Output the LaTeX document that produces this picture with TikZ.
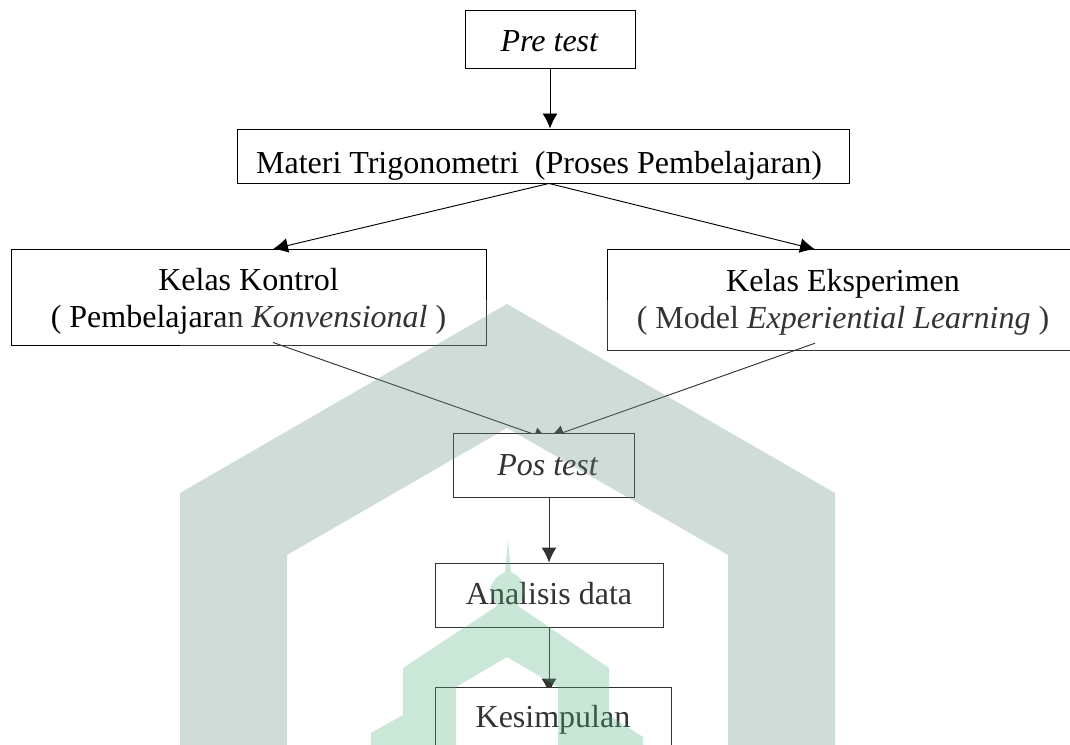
\documentclass[tikz,border=0pt]{standalone}
\usepackage{fontspec}
\setmainfont{Liberation Serif}
\usetikzlibrary{arrows.meta,calc}
\definecolor{band}{RGB}{98,141,125}
\definecolor{mosque}{RGB}{82,175,125}
\pgfdeclarelayer{lower}
\pgfdeclarelayer{links}
\pgfdeclarelayer{top}
\pgfsetlayers{lower,links,main,top}
\tikzset{
  box/.style={draw=black,fill=white,line width=0.7pt,inner sep=0pt,align=center,font=\fontsize{24}{27.75}\selectfont},
  drop/.style={text height=#1,text depth=0pt},
  link/.style={draw=black,line width=0.7pt,-{Latex[length=11.25pt,width=11.25pt]}},
}
\begin{document}
\begin{tikzpicture}[x=0.75pt,y=-0.75pt]
\useasboundingbox (0,0) rectangle (1070,745);
\begin{pgfonlayer}{lower}
\node[box,drop=19.5pt,minimum width=127.5pt,minimum height=43.5pt] (pre) at (550,39) {\itshape Pre test\hspace*{1pt}};
\node[box,drop=27pt,minimum width=459pt,minimum height=40.5pt] (mat) at (543,156) {Materi Trigonometri\ \ (Proses Pembelajaran)\hspace*{6pt}};
\node[box,minimum width=356.25pt,minimum height=72pt] (kon) at (248.5,297.5) {\rule{0pt}{22.5pt}Kelas Kontrol\\( Pembelajaran \textit{Konvensional} )};
\node[box,minimum width=348pt,minimum height=75.75pt] (eks) at (839,300.25) {\rule{0pt}{19.5pt}\hspace*{6pt}Kelas Eksperimen\\\hspace*{6pt}( Model \textit{Experiential Learning} )};
\node[box,drop=13.5pt,minimum width=171pt,minimum height=48pt] (ana) at (549,595) {Analisis data};
\end{pgfonlayer}
\node[box,drop=15pt,minimum width=135.75pt,minimum height=48pt] (pos) at (543.5,465) {\itshape\hspace*{6pt}Pos test};
\node[box,drop=12pt,minimum width=177pt,minimum height=48pt] (kes) at (553,719) {Kesimpulan};
\begin{pgfonlayer}{links}
\draw[link] (pre.south) -- (pre.south |- mat.north);
\draw[link] ($(mat.south)+(6,0)$) -- ($(kon.north)+(24.5,0)$);
\draw[link] ($(mat.south)+(6,0)$) -- ($(eks.north)+(-24,0)$);
\draw[link] ($(kon.south)+(24.5,-3.5)$) -- ($(pos.north)+(5.5,7)$);
\draw[link] ($(eks.south)+(-24,-8)$) -- ($(pos.north)+(5.5,5)$);
\draw[link] (pos.south -| ana.north) -- (ana.north);
\draw[link] (ana.south) -- ($(ana.south |- kes.north)+(0,7)$);
\end{pgfonlayer}
\begin{pgfonlayer}{top}
\fill[white,opacity=0.2] (180,345) -- (258,300) -- (1070,300) -- (1070,745) -- (180,745) -- cycle;
\fill[band,opacity=0.3] (507,304) -- (835,493) -- (835,745) -- (728,745) -- (728,555) -- (507,428) -- (287,555) -- (287,745) -- (180,745) -- (180,493) -- cycle;
\fill[mosque,opacity=0.3] (508,540) -- (511,572) .. controls (524,578) and (530,592) .. (518,606) -- (609,668) -- (609,715) -- (643,737) -- (643,745) -- (558,745) -- (558,687) -- (507,657) -- (456,687) -- (456,745) -- (371,745) -- (371,733) -- (403,715) -- (403,668) -- (497,606) .. controls (485,592) and (491,578) .. (505,572) -- cycle;
\end{pgfonlayer}
\end{tikzpicture}
\end{document}
